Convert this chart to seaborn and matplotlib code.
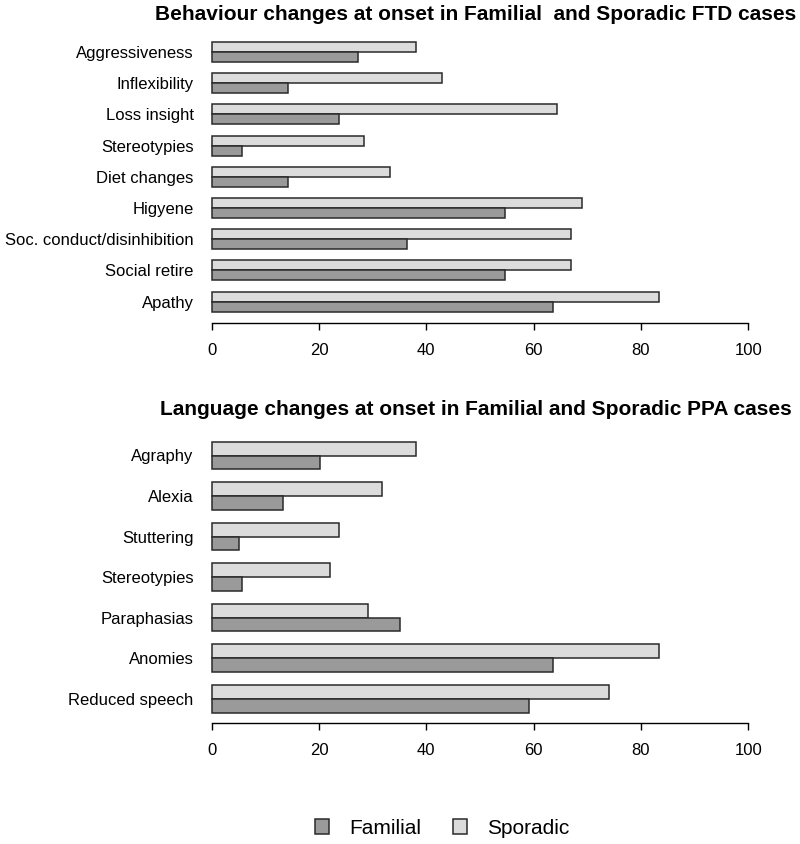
import numpy as np
import pandas as pd
import seaborn as sns
import matplotlib.pyplot as plt
from matplotlib.patches import Patch

sns.set_style("white")
plt.rcParams['font.family'] = ['Liberation Sans', 'DejaVu Sans']

# behaviour changes, FTD cases (percent), listed top to bottom
beh_labels = ["Aggressiveness", "Inflexibility", "Loss insight", "Stereotypies",
              "Diet changes", "Higyene", "Soc. conduct/disinhibition",
              "Social retire", "Apathy"]
beh_familial = [27.3, 14.2, 23.8, 5.6, 14.2, 54.6, 36.4, 54.6, 63.6]
beh_sporadic = [38.1, 43.0, 64.4, 28.4, 33.3, 69.0, 66.9, 66.9, 83.3]

# language changes, PPA cases (percent), listed top to bottom
lang_labels = ["Agraphy", "Alexia", "Stuttering", "Stereotypies",
               "Paraphasias", "Anomies", "Reduced speech"]
lang_familial = [20.1, 13.2, 5.1, 5.6, 35.1, 63.6, 59.2]
lang_sporadic = [38.1, 31.7, 23.8, 22.1, 29.2, 83.3, 74.0]

groups = ["Sporadic", "Familial"]
colors = {"Familial": "#9a9a9a", "Sporadic": "#dcdcdc"}
edge = "#2a2a2a"


def long_frame(labels, fam, spo):
    return pd.DataFrame({
        "item": labels * 2,
        "group": ["Familial"] * len(labels) + ["Sporadic"] * len(labels),
        "pct": fam + spo,
    })


fig = plt.figure(figsize=(8, 8.44), dpi=100)
W, H = 800, 844

def px_axes(x0, x1, y0, y1):
    return fig.add_axes([x0 / W, 1 - y1 / H, (x1 - x0) / W, (y1 - y0) / H])

# x: 0 at 211.7px, 100 at 748.3px; xlim -0.5..100.5
sc = (748.3 - 211.7) / 100
xl, xr = 211.7 - 0.5 * sc, 748.3 + 0.5 * sc

panels = [
    (long_frame(beh_labels, beh_familial, beh_sporadic), beh_labels,
     52.0, 31.2, 0.7, 0.7, 0.64,
     "Behaviour changes at onset in Familial  and Sporadic FTD cases", 14),
    (long_frame(lang_labels, lang_familial, lang_sporadic), lang_labels,
     455.5, 40.55, 0.6, 0.6, 0.68,
     "Language changes at onset in Familial and Sporadic PPA cases", 410),
]

for df, labels, c0, step, top_pad, bot_pad, bw, title, ty in panels:
    n = len(labels)
    ytop = c0 - top_pad * step
    ybot = c0 + (n - 1 + bot_pad) * step
    ax = px_axes(xl, xr, ytop, ybot)
    sns.barplot(data=df, y="item", x="pct", hue="group", order=labels,
                hue_order=groups, palette=colors, orient="h", width=bw,
                gap=0, saturation=1, edgecolor=edge, linewidth=1.1,
                legend=False, ax=ax, errorbar=None)
    ax.set_xlim(-0.5, 100.5)
    ax.set_ylim(n - 1 + bot_pad, -top_pad)
    ax.set_xticks([0, 20, 40, 60, 80, 100])
    ax.set_xlabel("")
    ax.set_ylabel("")
    for s in ["top", "right", "left"]:
        ax.spines[s].set_visible(False)
    ax.spines["bottom"].set_bounds(0, 100)
    ax.spines["bottom"].set_color("black")
    ax.spines["bottom"].set_linewidth(1.0)
    ax.tick_params(axis="x", bottom=True, direction="out", length=5.3,
                   width=1.0, pad=9, labelsize=12, colors="black")
    ax.tick_params(axis="y", left=False, length=0, pad=11, labelsize=12,
                   labelcolor="black")
    fig.text(476 / W, 1 - ty / H, title, ha="center", va="center",
             fontsize=15, fontweight="bold", color="black")

handles = [Patch(facecolor=colors["Familial"], edgecolor=edge, linewidth=1.1),
           Patch(facecolor=colors["Sporadic"], edgecolor=edge, linewidth=1.1)]
fig.legend(handles, ["Familial", "Sporadic"], loc="center",
           bbox_to_anchor=(442 / W, 1 - 828 / H), ncol=2, frameon=False,
           fontsize=15, handlelength=0.7, handleheight=0.7,
           handletextpad=0.95, columnspacing=1.5, labelcolor="black")

fig.savefig("out.png", dpi=100)
